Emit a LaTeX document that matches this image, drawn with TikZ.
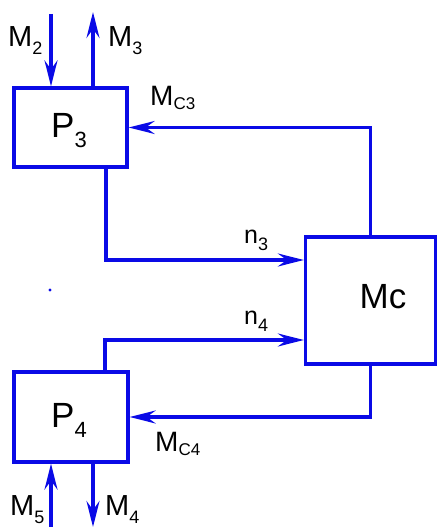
\documentclass[tikz,border=0pt]{standalone}
\usepackage{fontspec}
\setmainfont{Liberation Sans}
\usetikzlibrary{arrows.meta,calc}
\definecolor{lineblue}{RGB}{10,10,230}
\newcommand\fs[1]{\fontsize{#1}{#1}\selectfont}
% lowered subscript: size, text, drop
\newcommand\lowsub[3]{\raisebox{-#3}{\fs{#1}#2}}
\tikzset{
  blk/.style={draw=lineblue, line width=3.3pt, rectangle, inner sep=0pt},
  wire/.style={draw=lineblue, line width=3.3pt},
  arr/.style={wire, -{Stealth[length=26pt,width=13pt,inset=9pt]}},
  lbl/.style={anchor=base west, inner sep=0pt, text=black}
}
\begin{document}
\begin{tikzpicture}[x=1pt,y=-1pt]
\useasboundingbox (0,0) rectangle (438,527);

% blocks
\node[blk, minimum width=113pt, minimum height=79pt] (P3) at (70.5,127.5) {};
\node[blk, minimum width=114pt, minimum height=90pt] (P4) at (71,417) {};
\node[blk, minimum width=130pt, minimum height=127pt] (Mc) at (370.5,300.5) {};

% free ends of the outer shafts
\coordinate (m2top) at (51,14);
\coordinate (m3top) at (93,12);
\coordinate (m5bot) at (51,527);
\coordinate (m4bot) at (93,527);

% outer inputs and outputs
\draw[arr] (m2top) -- ([xshift=-19.5pt]P3.north);
\draw[arr] ([xshift=22.5pt]P3.north) -- (m3top);
\draw[arr] (m5bot) -- ([xshift=-20pt]P4.south);
\draw[arr] ([xshift=22pt]P4.south) -- (m4bot);

% feedback loops through Mc
\draw[arr] (Mc.north) |- (P3.east);
\draw[arr] (Mc.south) |- (P4.east);
\draw[arr] ([xshift=35.5pt]P3.south) |- ([yshift=40.5pt]Mc.west);
\draw[arr] ([xshift=34pt]P4.north) |- ([yshift=-39.5pt]Mc.west);

% stray dot
\fill[lineblue] (50,290) circle (1.7pt);

% labels
\node[lbl] (tP3) at (51,137) {\fs{35}P\lowsub{22}{3}{10pt}};
\node[lbl] (tP4) at (51,427) {\fs{35}P\lowsub{22}{4}{10pt}};
\node[lbl] (tMc) at (359.5,308) {\fs{35}Mc};
\node[lbl] (tM2) at (8,47) {\fs{29}M\lowsub{18}{2}{8pt}};
\node[lbl] (tM3) at (108,47) {\fs{29}M\lowsub{18}{3}{8pt}};
\node[lbl] (tM5) at (10,515) {\fs{29}M\lowsub{18}{5}{8pt}};
\node[lbl] (tM4) at (105,515) {\fs{29}M\lowsub{18}{4}{8pt}};
\node[lbl] (tMC3) at (150,105) {\fs{28}M\lowsub{17}{C3}{4pt}};
\node[lbl] (tMC4) at (155,451) {\fs{28}M\lowsub{17}{C4}{4pt}};
\node[lbl] (tn3) at (244,243) {\fs{25}n\lowsub{18}{3}{7pt}};
\node[lbl] (tn4) at (244,324) {\fs{25}n\lowsub{18}{4}{7pt}};
\end{tikzpicture}
\end{document}
